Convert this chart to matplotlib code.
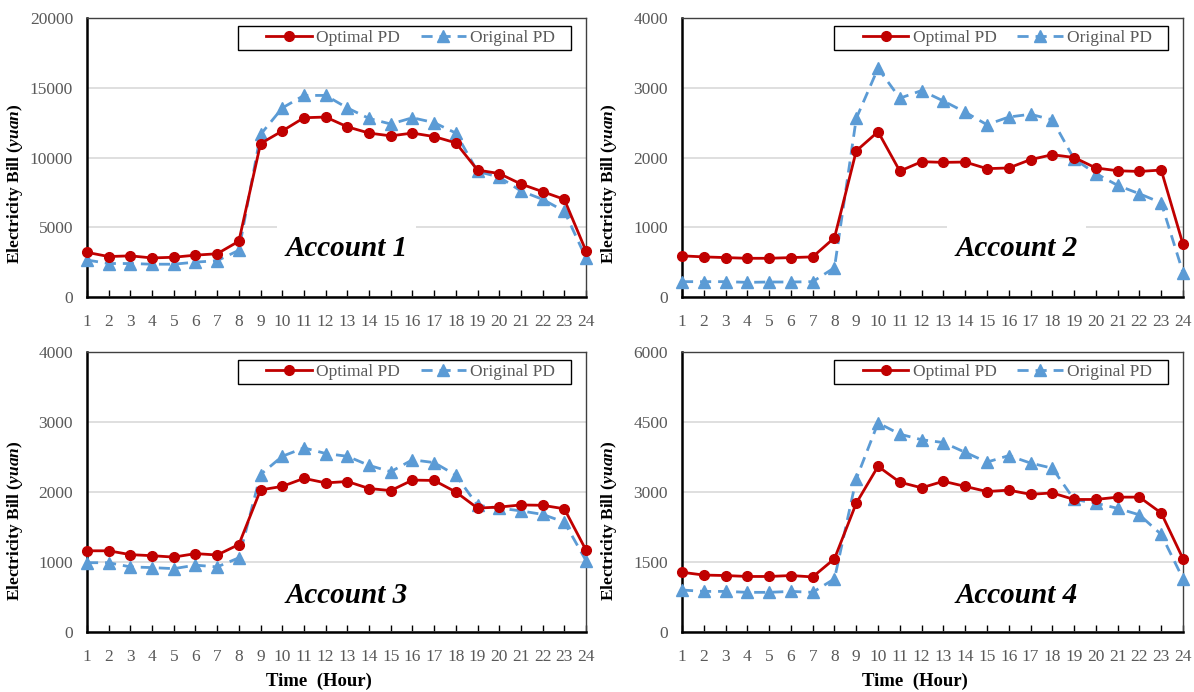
import matplotlib
matplotlib.use("Agg")
import matplotlib.pyplot as plt
from matplotlib.ticker import FixedLocator
from matplotlib.patches import Rectangle

plt.rcParams['font.family'] = ['Liberation Serif', 'DejaVu Serif']
plt.rcParams['mathtext.fontset'] = 'custom'
plt.rcParams['mathtext.rm'] = 'Liberation Serif'
plt.rcParams['mathtext.it'] = 'Liberation Serif:italic'
plt.rcParams['mathtext.bf'] = 'Liberation Serif:bold'
plt.rcParams['mathtext.bfit'] = 'Liberation Serif:bold:italic'

hours = list(range(1, 25))

opt1 = [3200, 2900, 2950, 2800, 2850, 3000, 3100, 4000, 11000, 11900, 12850, 12900,
        12200, 11750, 11550, 11750, 11500, 11050, 9100, 8850, 8100, 7550, 7000, 3300]
orig1 = [2650, 2400, 2400, 2350, 2350, 2500, 2600, 3350, 11650, 13550, 14450, 14450,
         13550, 12800, 12400, 12850, 12500, 11750, 9000, 8600, 7600, 7000, 6150, 2800]

opt2 = [590, 575, 565, 555, 555, 565, 575, 850, 2095, 2370, 1805, 1940,
        1930, 1935, 1840, 1850, 1970, 2040, 2000, 1850, 1810, 1800, 1820, 755]
orig2 = [220, 220, 220, 210, 215, 215, 220, 420, 2560, 3280, 2850, 2960,
         2810, 2650, 2470, 2580, 2620, 2540, 1980, 1770, 1600, 1480, 1350, 350]

opt3 = [1160, 1160, 1105, 1090, 1070, 1120, 1100, 1250, 2030, 2080, 2195, 2130,
        2150, 2050, 2020, 2170, 2165, 2000, 1770, 1785, 1815, 1810, 1760, 1170]
orig3 = [990, 990, 930, 920, 905, 955, 930, 1060, 2250, 2510, 2630, 2550,
         2510, 2380, 2290, 2460, 2420, 2240, 1810, 1770, 1730, 1680, 1570, 1020]

opt4 = [1280, 1220, 1210, 1190, 1190, 1210, 1180, 1570, 2760, 3550, 3210, 3090,
        3230, 3120, 3010, 3040, 2950, 2980, 2840, 2840, 2890, 2890, 2550, 1570]
orig4 = [900, 870, 870, 850, 850, 870, 850, 1140, 3280, 4480, 4240, 4120,
         4060, 3850, 3640, 3780, 3620, 3510, 2840, 2760, 2650, 2510, 2090, 1140]

yticks1 = [0, 5000, 10000, 15000, 20000]
yticks2 = [0, 1000, 2000, 3000, 4000]
yticks3 = [0, 1000, 2000, 3000, 4000]
yticks4 = [0, 1500, 3000, 4500, 6000]

titles = ["Account 1", "Account 2", "Account 3", "Account 4"]
label_opt = "Optimal PD"
label_orig = "Original PD"

RED = '#C00000'
BLUE = '#5B9BD5'
GRAY = '#595959'

fig = plt.figure(figsize=(11.94, 6.92), dpi=100)
W, H = 1194, 692
boxes = [(87, 18, 586, 297), (682, 18, 1183, 297),
         (87, 352, 586, 632), (682, 352, 1183, 632)]
data = [(opt1, orig1, yticks1), (opt2, orig2, yticks2),
        (opt3, orig3, yticks3), (opt4, orig4, yticks4)]
text_pos = [(0.52, 0.175), (0.667, 0.175), (0.52, 0.13), (0.667, 0.13)]
ylabel_y = [0.405, 0.405, 0.396, 0.396]

for i, ((l, t, r, b), (opt, orig, yt)) in enumerate(zip(boxes, data)):
    axw, axh = r - l, b - t
    ax = fig.add_axes([l / W, 1 - b / H, axw / W, axh / H])
    ax.plot(hours, orig, color=BLUE, linestyle=(0, (4, 2.5)), linewidth=2,
            marker='^', markersize=8, label=label_orig, zorder=3, clip_on=False)
    ax.plot(hours, opt, color=RED, linestyle='-', linewidth=2,
            marker='o', markersize=7, label=label_opt, zorder=4, clip_on=False)
    ax.set_xlim(1, 24)
    ax.set_ylim(yt[0], yt[-1])
    ax.yaxis.set_major_locator(FixedLocator(yt))
    ax.xaxis.set_major_locator(FixedLocator(hours))
    ax.set_xticklabels([str(h) for h in hours])
    ax.grid(axis='y', color='#D9D9D9', linewidth=1.2, zorder=0)
    ax.set_axisbelow(True)
    ax.tick_params(axis='x', direction='in', length=5, width=1, colors='black',
                   labelcolor=GRAY, labelsize=12.5, pad=12)
    ax.tick_params(axis='y', length=0, labelcolor=GRAY, labelsize=12.5, pad=10)
    for s in ['left', 'bottom']:
        ax.spines[s].set_linewidth(1.8)
        ax.spines[s].set_color('black')
    for s in ['top', 'right']:
        ax.spines[s].set_linewidth(1.0)
        ax.spines[s].set_color('#404040')
    ax.set_ylabel("Electricity Bill ($\\mathbfit{yuan}$)", fontsize=12.5,
                  fontweight='bold')
    ax.yaxis.set_label_coords(-0.125, ylabel_y[i])
    if i >= 2:
        ax.set_xlabel("Time  (Hour)", fontsize=13.5, fontweight='bold')
        ax.xaxis.set_label_coords(0.464, -0.145)
    tx, ty = text_pos[i]
    ax.text(tx, ty, titles[i], transform=ax.transAxes, ha='center', va='center',
            fontsize=21, fontweight='bold', fontstyle='italic', zorder=2,
            bbox=dict(facecolor='white', edgecolor='none', pad=6))
    # legend frame
    fx0 = (238 - 87) / 499
    fx1 = (571 - 87) / 499
    fy1 = (297 - 26) / 279
    fy0 = (297 - 50) / 279
    ax.add_patch(Rectangle((fx0, fy0), fx1 - fx0, fy1 - fy0, transform=ax.transAxes,
                           facecolor='white', edgecolor='black', linewidth=1.0,
                           zorder=5, clip_on=False))
    handles, labels = ax.get_legend_handles_labels()
    leg = ax.legend(handles[::-1], labels[::-1], ncol=2, loc='center right',
                    bbox_to_anchor=(0.938, (fy0 + fy1) / 2), frameon=False,
                    fontsize=12.5, handlelength=2.6,
                    columnspacing=1.2, handletextpad=0.25, borderpad=0,
                    borderaxespad=0)
    leg.set_zorder(6)
    for txt in leg.get_texts():
        txt.set_color(GRAY)

fig.savefig("out.png", dpi=100)
